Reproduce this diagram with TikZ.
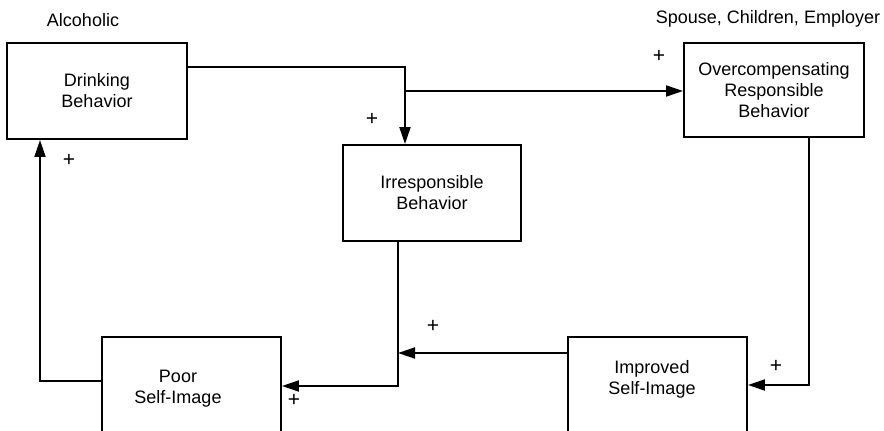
\documentclass[tikz,border=0pt]{standalone}
\usepackage{fontspec}
\setmainfont{Liberation Sans}
\usetikzlibrary{arrows.meta}
\begin{document}
\begin{tikzpicture}[x=1pt,y=-1pt,
  every node/.style={font=\fontsize{18}{21}\selectfont, align=center, inner sep=0pt},
  box/.style={draw, line width=1.9pt, rectangle},
  arr/.style={line width=1.9pt, -{Triangle[length=17pt,width=11pt]}},
  sign/.style={font=\fontsize{21}{21}\selectfont}]
\useasboundingbox (0,0) rectangle (884,431);
\clip (0,0) rectangle (884,431);
\fill[white] (0,0) rectangle (884,431);
% boxes
\node[box, minimum width=180pt, minimum height=96pt] (drink) at (97,91) {Drinking\\Behavior};
\node[box, minimum width=178pt, minimum height=96pt] (irr) at (432,193) {Irresponsible\\Behavior};
\node[box, minimum width=180pt, minimum height=94pt] (over) at (774,90) {Overcompensating\\Responsible\\Behavior};
\node[box, minimum width=179pt, minimum height=104pt] (poor) at (191.5,389) {};
\node (poortxt) at (178,389) {Poor\\Self-Image};
\node[box, minimum width=179pt, minimum height=104pt] (imp) at (657.5,389) {};
\node (imptxt) at (652,379) {Improved\\Self-Image};
% headings
\node (alc) at (83,20) {Alcoholic};
\node (sce) at (768,19) {Spouse, Children, Employer};
% junctions
\coordinate (j1) at (405,67);
\coordinate (j2) at (405,91);
\coordinate (j3) at (809,385);
\coordinate (j4) at (398,353);
\coordinate (j5) at (398,386);
\coordinate (j6) at (40,381);
% connectors
\draw[arr] (j1 -| drink.east) -- (j1) -- (j1 |- irr.north);
\draw[arr] (j2) -- (j2 -| over.west);
\draw[arr] (j3 |- over.south) -- (j3) -- (j3 -| imp.east);
\draw[arr] (j4 -| imp.west) -- (j4);
\draw[arr] (j5 |- irr.south) -- (j5) -- (j5 -| poor.east);
\draw[arr] (j6 -| poor.west) -- (j6) -- (j6 |- drink.south);
% signs
\node[sign] (p1) at (659,56) {+};
\node[sign] (p2) at (372,119) {+};
\node[sign] (p3) at (69,160) {+};
\node[sign] (p4) at (433,326) {+};
\node[sign] (p5) at (294,400) {+};
\node[sign] (p6) at (776,366) {+};
\end{tikzpicture}
\end{document}
